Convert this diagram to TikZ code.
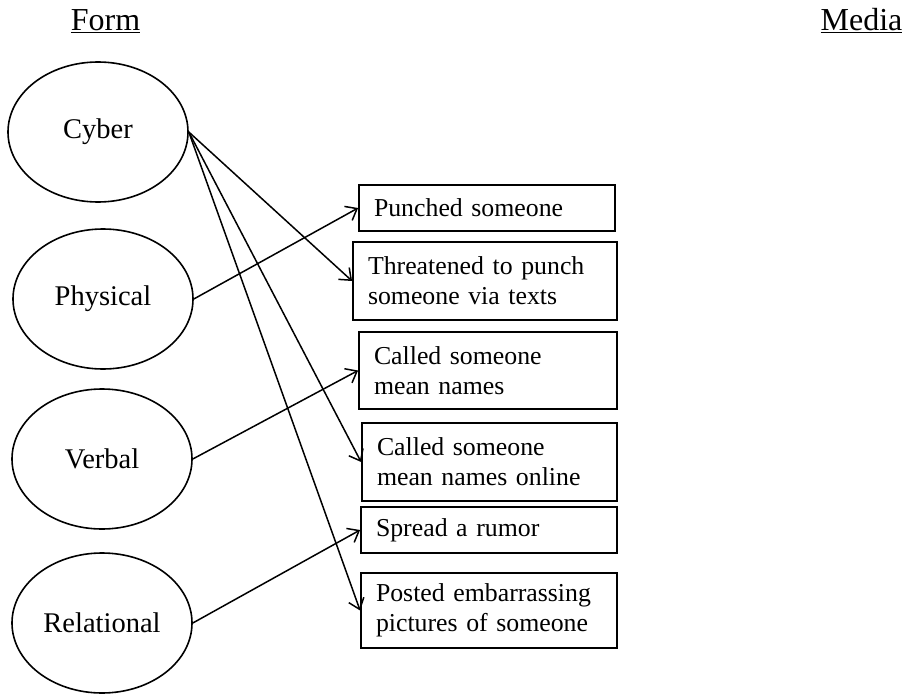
\documentclass[tikz,border=0pt]{standalone}
\usepackage{fontspec}
\setmainfont[WordSpace=0.85]{Liberation Serif}
\usetikzlibrary{shapes.geometric,arrows.meta}
\begin{document}
\begin{tikzpicture}[x=1pt,y=-1pt,
  formnode/.style={ellipse,draw,line width=1.6pt,minimum width=180pt,minimum height=140pt,inner sep=0pt,font=\fontsize{28.5}{34}\selectfont},
  mediabox/.style={rectangle,draw,line width=1.8pt,inner xsep=15pt,inner ysep=0pt,align=left,font=\fontsize{25.8}{30}\selectfont},
  heading/.style={anchor=base,font=\fontsize{32}{38}\selectfont},
  link/.style={line width=1.5pt,-{Straight Barb[length=10pt,width=16pt,line width=1.5pt]}}]
\useasboundingbox (0,0) rectangle (908,696);
\node[heading] (form) at (105.5,30) {\underline{Form}};
\node[heading] (media) at (861.5,30) {\underline{Media}};
\node[formnode] (cyber) at (98,132) {Cyber};
\node[formnode] (physical) at (103,299) {Physical};
\node[formnode] (verbal) at (102,459) {Verbal};
\node[formnode] (relational) at (102,623) {Relational};
\node[mediabox,minimum width=256pt,minimum height=46pt,text width=226pt] (punched) at (487,208) {Punched someone};
\node[mediabox,minimum width=264pt,minimum height=78pt,text width=234pt] (threat) at (485,281) {Threatened to punch\\someone via texts};
\node[mediabox,minimum width=258pt,minimum height=77pt,text width=228pt] (called) at (488,370.5) {Called someone\\mean names};
\node[mediabox,minimum width=255pt,minimum height=78pt,text width=225pt] (online) at (489.5,462) {Called someone\\mean names online};
\node[mediabox,minimum width=256pt,minimum height=46pt,text width=226pt] (spread) at (489,530) {Spread a rumor};
\node[mediabox,minimum width=256pt,minimum height=75pt,text width=226pt] (posted) at (489,610.5) {Posted embarrassing\\pictures of someone};
\draw[link] (cyber.east) -- (threat.west);
\draw[link] (cyber.east) -- (online.west);
\draw[link] (cyber.east) -- (posted.west);
\draw[link] (physical.east) -- (punched.west);
\draw[link] (verbal.east) -- (called.west);
\draw[link] (relational.east) -- (spread.west);
\end{tikzpicture}
\end{document}
